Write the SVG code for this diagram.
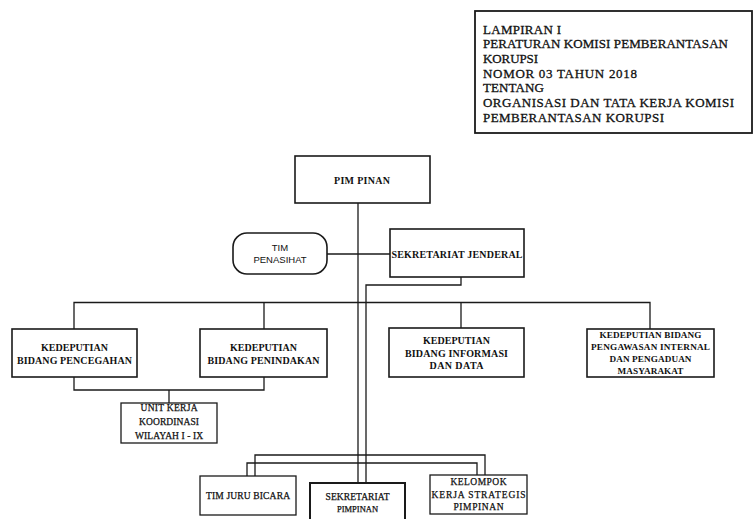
<svg xmlns="http://www.w3.org/2000/svg" width="755" height="519" viewBox="0 0 755 519">
<style>
.box{fill:#fff;stroke:#1a1a1a;stroke-width:1.6}
.ln{fill:none;stroke:#1a1a1a;stroke-width:1.3}
.t{font-family:"Liberation Serif","Times New Roman",serif;font-weight:bold;font-size:10px;fill:#111;text-anchor:middle}
.r{font-family:"Liberation Serif","Times New Roman",serif;font-size:9.5px;fill:#111;stroke:#111;stroke-width:0.25;text-anchor:middle}
.s{font-family:"Liberation Sans",Arial,sans-serif;font-size:9.5px;fill:#111;text-anchor:middle}
.h{font-family:"Liberation Serif","Times New Roman",serif;font-size:13px;fill:#111;stroke:#111;stroke-width:0.3}
</style>
<rect width="755" height="519" fill="#fff"/>
<g id="header">
<rect x="475" y="11" width="277" height="122" fill="#fff" stroke="#1a1a1a" stroke-width="1.8"/>
<text class="h" x="483" y="33.5" textLength="78">LAMPIRAN I</text>
<text class="h" x="483" y="48" textLength="245">PERATURAN KOMISI PEMBERANTASAN</text>
<text class="h" x="483" y="63" textLength="55">KORUPSI</text>
<text class="h" x="483" y="77.5" textLength="154">NOMOR 03 TAHUN 2018</text>
<text class="h" x="483" y="92" textLength="61">TENTANG</text>
<text class="h" x="483" y="107" textLength="251">ORGANISASI DAN TATA KERJA KOMISI</text>
<text class="h" x="483" y="121.7" textLength="181">PEMBERANTASAN KORUPSI</text>
</g>
<g id="connectors">
<path class="ln" d="M358,203 V483"/>
<path class="ln" d="M327,254 H390"/>
<path class="ln" d="M461,277 V285 H366 V483"/>
<path class="ln" d="M74,329 V302.5 H650 V329"/>
<path class="ln" d="M264,302.5 V329"/>
<path class="ln" d="M461,302.5 V328"/>
<path class="ln" d="M74,377 V390 H264 V377"/>
<path class="ln" d="M169,390 V403"/>
<path class="ln" d="M255,476 V455 H485 V475"/>
<path class="ln" d="M247,476 V463 H477 V475"/>
</g>
<g id="pimpinan">
<rect class="box" x="295" y="156" width="135" height="47"/>
<text class="t" x="362" y="183.5" textLength="56">PIM PINAN</text>
</g>
<g id="tim-penasihat">
<rect class="box" x="233" y="233" width="94" height="41" rx="14"/>
<text class="s" x="280" y="251">TIM</text>
<text class="s" x="280" y="262.5">PENASIHAT</text>
</g>
<g id="sekretariat-jenderal">
<rect class="box" x="390" y="229" width="134" height="48"/>
<text class="t" x="457" y="257.5" textLength="131">SEKRETARIAT JENDERAL</text>
</g>
<g id="pencegahan">
<rect class="box" x="12" y="329" width="125" height="48"/>
<text class="t" x="74.5" y="350.5" textLength="67">KEDEPUTIAN</text>
<text class="t" x="74.5" y="363.5" textLength="115">BIDANG PENCEGAHAN</text>
</g>
<g id="penindakan">
<rect class="box" x="200" y="329" width="127" height="48"/>
<text class="t" x="263.5" y="350.5" textLength="67">KEDEPUTIAN</text>
<text class="t" x="263.5" y="363.5" textLength="112">BIDANG PENINDAKAN</text>
</g>
<g id="informasi">
<rect class="box" x="389" y="328" width="135" height="49"/>
<text class="t" x="456.5" y="343.5" textLength="67">KEDEPUTIAN</text>
<text class="t" x="456.5" y="356.5" textLength="103">BIDANG INFORMASI</text>
<text class="t" x="456.5" y="368.5" textLength="54">DAN DATA</text>
</g>
<g id="pengawasan">
<rect class="box" x="587" y="329" width="127" height="48"/>
<text class="t" x="650.5" y="337.5" textLength="102" style="font-size:9.2px">KEDEPUTIAN BIDANG</text>
<text class="t" x="650.5" y="350" textLength="119" style="font-size:9.2px">PENGAWASAN INTERNAL</text>
<text class="t" x="650.5" y="361.5" textLength="82" style="font-size:9.2px">DAN PENGADUAN</text>
<text class="t" x="650.5" y="374" textLength="66" style="font-size:9.2px">MASYARAKAT</text>
</g>
<g id="unit-kerja">
<rect class="box" x="121" y="403" width="96" height="40" style="stroke-width:1.3"/>
<text class="r" x="169" y="411" textLength="57">UNIT KERJA</text>
<text class="r" x="169" y="425" textLength="60">KOORDINASI</text>
<text class="r" x="169" y="439" textLength="68">WILAYAH I - IX</text>
</g>
<g id="tim-juru-bicara">
<rect class="box" x="200" y="476" width="96" height="39" style="stroke-width:1.3"/>
<text class="r" x="248" y="498.5" textLength="84">TIM JURU BICARA</text>
</g>
<g id="sekretariat-pimpinan">
<rect class="box" x="310" y="483" width="95" height="45" style="stroke-width:2"/>
<text class="r" x="357.5" y="500" textLength="64">SEKRETARIAT</text>
<text class="r" x="357.5" y="511.5" style="font-size:8.5px">PIMPINAN</text>
</g>
<g id="kelompok-kerja">
<rect class="box" x="430" y="475" width="97" height="39" style="stroke-width:1.3"/>
<text class="r" x="478.5" y="485" textLength="56">KELOMPOK</text>
<text class="r" x="478.5" y="497.5" textLength="94">KERJA STRATEGIS</text>
<text class="r" x="478.5" y="510" textLength="50">PIMPINAN</text>
</g>
</svg>
